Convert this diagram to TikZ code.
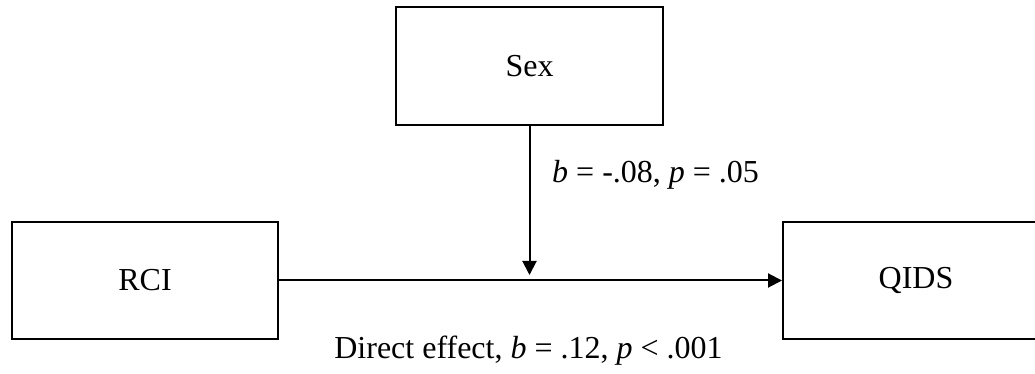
\documentclass[tikz,border=0pt]{standalone}
\usepackage{fontspec}
\setmainfont{Liberation Serif}
\usepackage{tikz}
\usetikzlibrary{arrows.meta, positioning}

\begin{document}
\begin{tikzpicture}[
    x=1pt, y=1pt,
    node distance=100pt and 503pt,
    varbox/.style={rectangle, minimum width=266pt, minimum height=117pt, text centered, draw=black, line width=2pt, font=\fontsize{32}{38}\selectfont},
    effect/.style={font=\fontsize{32}{38}\selectfont, inner sep=0pt},
    arrow/.style={line width=2pt, -{Triangle[length=14pt, width=14pt]}}
]
\useasboundingbox (0,0) rectangle (1035,374);

% Nodes
\node (rci) [varbox] at (145,93.5) {RCI};
\node (qids) [varbox, right=of rci] {QIDS};
\node (sex) [varbox, minimum width=267pt, minimum height=118pt] at (529.5,308) {Sex};
\coordinate (mod) at (529.5,99);

% Labels
\node (moderation) [effect, anchor=west] at (552,199) {\textit{b} = -.08, \textit{p} = .05};
\node (direct) [effect] at (528.5,23) {Direct effect, \textit{b} = .12, \textit{p} < .001};

% Arrows
\draw [arrow] (rci) -- (qids);
\draw [arrow] (sex) -- (mod);

\end{tikzpicture}
\end{document}
